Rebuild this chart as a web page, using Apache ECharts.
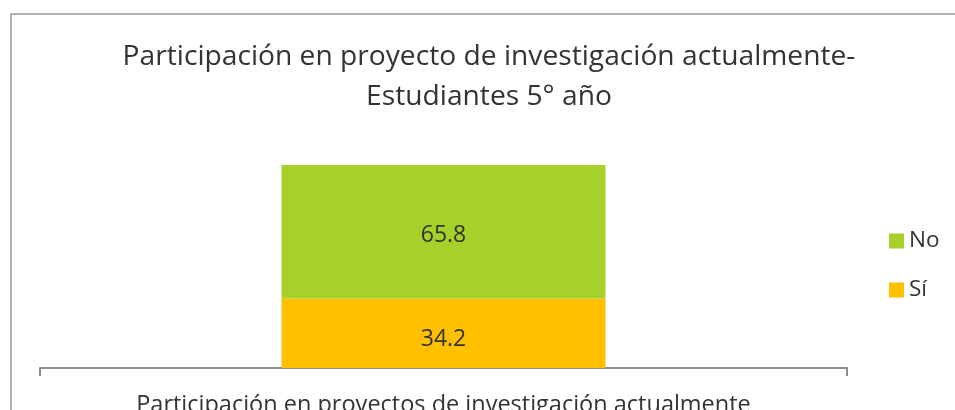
<!DOCTYPE html>
<html><head><meta charset="utf-8">
<script src="https://cdn.jsdelivr.net/npm/echarts@6/dist/echarts.min.js"></script>
<style>html,body{margin:0;padding:0;background:#fff}#c{width:955px;height:410px}</style>
</head><body><div id="c"></div>
<script>
const categories = ["Participación en proyectos de investigación actualmente"];
const seriesNames = ["Sí", "No"];
const siValues = [34.2];
const noValues = [65.8];
const legendOrder = ["No", "Sí"];
const titleText = "Participación en proyecto de investigación actualmente-\nEstudiantes 5° año";

const FONT = "'Open Sans', 'Noto Sans', sans-serif";
const chart = echarts.init(document.getElementById('c'));
chart.setOption({
  animation: false,
  backgroundColor: '#fff',
  graphic: [{
    type: 'rect', left: 8.5, top: 11.5, shape: { width: 1000, height: 500 },
    style: { fill: 'none', stroke: '#9a9a9a', lineWidth: 1.5 }, silent: true, z: -1
  }],
  title: {
    text: titleText, left: 489, top: 37, textAlign: 'center', padding: 0,
    textStyle: { fontFamily: FONT, fontSize: 28.2, fontWeight: 'normal', color: '#333', lineHeight: 40 }
  },
  legend: {
    data: legendOrder, orient: 'vertical', left: 889, top: 229.5, padding: 0,
    itemWidth: 15, itemHeight: 15, itemGap: 26, icon: 'rect',
    textStyle: { fontFamily: FONT, fontSize: 22.5, color: '#333', lineHeight: 22 }
  },
  grid: { left: 40, right: 108, top: 165, bottom: 42, containLabel: false, outerBoundsMode: 'none' },
  xAxis: {
    type: 'category', data: categories,
    axisLine: { lineStyle: { color: '#8c8c8c', width: 2 } },
    axisTick: { show: true, length: 8, lineStyle: { color: '#8c8c8c', width: 2 } },
    axisLabel: { margin: 25, fontFamily: FONT, fontSize: 23.5, color: '#333' }
  },
  yAxis: {
    type: 'value', min: 0, max: 100, show: false, splitLine: { show: false }
  },
  series: [
    { name: seriesNames[0], type: 'bar', stack: 't', data: siValues, barWidth: 324,
      itemStyle: { color: '#FFC000' },
      label: { show: true, position: 'inside', offset: [0, 6], fontFamily: FONT, fontSize: 23, color: '#333' } },
    { name: seriesNames[1], type: 'bar', stack: 't', data: noValues, barWidth: 324,
      itemStyle: { color: '#A6D12A' },
      label: { show: true, position: 'inside', offset: [0, 4], fontFamily: FONT, fontSize: 23, color: '#333' } }
  ]
});
</script></body></html>
